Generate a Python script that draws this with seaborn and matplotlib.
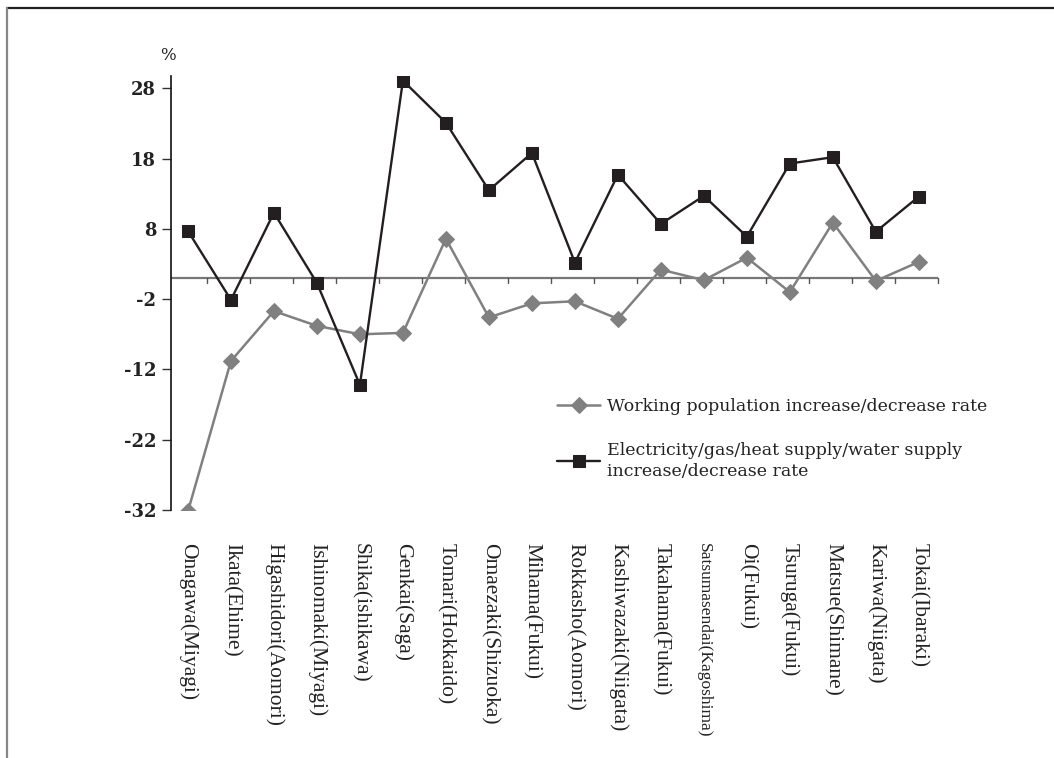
import matplotlib
matplotlib.use('Agg')
import matplotlib.pyplot as plt
from matplotlib.lines import Line2D
import seaborn as sns
import numpy as np
import pandas as pd

# Data
towns = ['Onagawa(Miyagi)', 'Ikata(Ehime)', 'Higashidori(Aomori)', 'Ishinomaki(Miyagi)',
         'Shika(ishikawa)', 'Genkai(Saga)', 'Tomari(Hokkaido)', 'Omaezaki(Shizuoka)',
         'Mihama(Fukui)', 'Rokkasho(Aomori)', 'Kashiwazaki(Niigata)', 'Takahama(Fukui)',
         'Satsumasendai(Kagoshima)', 'Oi(Fukui)', 'Tsuruga(Fukui)', 'Matsue(Shimane)',
         'Kariwa(Niigata)', 'Tokai(Ibaraki)']
working_pop = [-32.2, -10.8, -3.7, -5.8, -7.0, -6.8, 6.6, -4.6, -2.6, -2.3,
               -4.8, 2.2, 0.7, 3.9, -1.0, 8.9, 0.6, 3.3]
utilities = [7.7, -2.1, 10.3, 0.3, -14.2, 29.1, 23.1, 13.5, 18.8, 3.2,
             15.7, 8.7, 12.7, 6.9, 17.3, 18.2, 7.6, 12.6]
y_ticks = [-32, -22, -12, -2, 8, 18, 28]
base_line = 1.0

label_work = 'Working population increase/decrease rate'
label_util = 'Electricity/gas/heat supply/water supply\nincrease/decrease rate'

df = pd.DataFrame({'pos': np.arange(len(towns)), 'town': towns,
                   'work': working_pop, 'util': utilities})

sns.set_style('white')
plt.rcParams['font.family'] = ['DejaVu Serif']

fig = plt.figure(figsize=(10.54, 7.58), dpi=100)
ax = fig.add_axes([0.162, 0.3272, 0.7277, 0.5725])

dark = '#231f20'
grey = '#808080'

# reference line where the category axis crosses
ax.axhline(base_line, color='#777777', lw=1.6, zorder=1)
for k in range(len(towns)):
    ax.plot([k + 0.44, k + 0.44], [base_line, base_line - 0.7], color='#555555', lw=1.0,
            zorder=1, clip_on=False)

sns.lineplot(data=df, x='pos', y='work', ax=ax, color=grey, lw=1.8, marker='D',
             markersize=8.5, markeredgecolor=grey, label=label_work, zorder=3)
sns.lineplot(data=df, x='pos', y='util', ax=ax, color=dark, lw=1.7, marker='s',
             markersize=8.8, markeredgecolor=dark, label=label_util, zorder=4)

ax.set_xlim(-0.40, 17.44)
ax.set_ylim(-32, 29.75)

for s in ['top', 'right', 'bottom']:
    ax.spines[s].set_visible(False)
ax.spines['left'].set_color('#111111')
ax.spines['left'].set_linewidth(1.2)

ax.set_yticks(y_ticks)
ax.set_yticklabels([str(v) for v in y_ticks], fontsize=13, fontweight='bold',
                   color='#222222')
ax.tick_params(axis='y', direction='out', length=6.5, width=1.0, color='#333333', pad=4,
               left=True)

ax.set_xticks(df['pos'])
ax.set_xticklabels(towns, rotation=-90, ha='center', va='top', fontsize=15.5,
                   family='Liberation Serif', color='#222222')
ax.get_xticklabels()[12].set_fontsize(12.5)
ax.tick_params(axis='x', length=0, pad=24)
ax.set_xlabel('')
ax.set_ylabel('')

leg = ax.legend(loc='upper left', bbox_to_anchor=(557 / 1054, 1 - 398 / 758),
                bbox_transform=fig.transFigure, frameon=False, fontsize=12.5,
                handlelength=2.5, handletextpad=0.4, labelspacing=1.55,
                borderaxespad=0, borderpad=0)
for t in leg.get_texts():
    t.set_color('#222222')
    t.set_linespacing(1.3)

fig.text(168 / 1054, 1 - 55 / 758, '%', ha='center', va='center', fontsize=12,
         color='#222222')

# page frame
fig.add_artist(Line2D([6.7 / 1054, 1], [1 - 8.3 / 758, 1 - 8.3 / 758],
                      transform=fig.transFigure, color='#222222', lw=1.6))
fig.add_artist(Line2D([6.7 / 1054, 6.7 / 1054], [0, 1 - 8.3 / 758],
                      transform=fig.transFigure, color='#888888', lw=1.6))

fig.savefig('out.png', dpi=100)
